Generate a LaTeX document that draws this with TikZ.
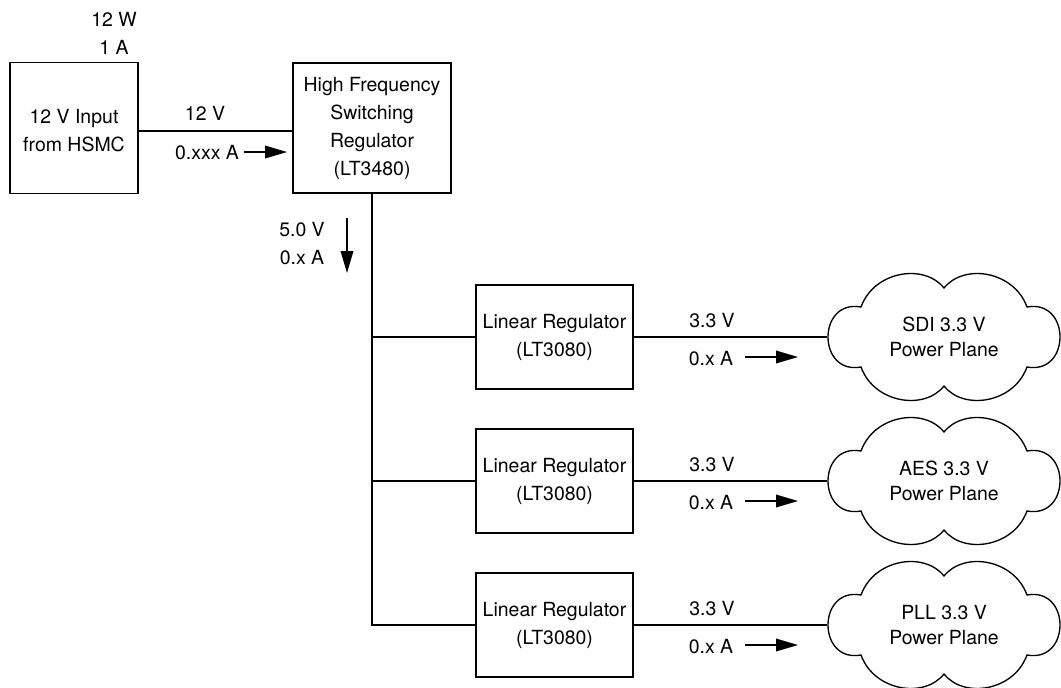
\documentclass[tikz,border=0pt]{standalone}
\usepackage{fontspec}
\setmainfont{TeX Gyre Heros}
\usetikzlibrary{arrows.meta}
\begin{document}
\begin{tikzpicture}[x=0.75pt,y=-0.75pt,
  wire/.style={line width=1pt},
  blk/.style={draw,line width=1pt,inner sep=0pt,align=center,
    font=\fontsize{14.6}{21}\selectfont},
  lbl/.style={inner sep=0pt,align=center,font=\fontsize{14.6}{21}\selectfont},
  flow/.style={line width=1pt,-{Triangle[length=16.5pt,width=9.5pt]}},
  planebox/.style={inner sep=0pt,minimum width=175.5pt,minimum height=94.5pt,
    align=center,font=\fontsize{14.6}{19}\selectfont},
  plane/.pic={
    \draw[line width=1pt]
      (-83,-30) .. controls (-70,-66) and (-20,-74) .. (0,-49)
      .. controls (20,-74) and (70,-66) .. (83,-30)
      .. controls (127,-38) and (127,38) .. (83,30)
      .. controls (70,66) and (20,74) .. (0,49)
      .. controls (-20,74) and (-70,66) .. (-83,30)
      .. controls (-127,38) and (-127,-38) .. cycle;
  }]
\useasboundingbox (0,0) rectangle (1061,687);

% source and switching regulator
\node[blk,minimum width=96pt,minimum height=98.25pt] (inbox) at (74,128) {};
\node[lbl] (intext) at (74,131) {12 V Input\\from HSMC};
\node[lbl] (inpower) at (114,33) {12 W\\1 A};
\node[blk,minimum width=118.5pt,minimum height=97.5pt] (sw) at (372,128)
  {High Frequency\\Switching\\Regulator\\(LT3480)};

\draw[wire] ([yshift=-2.25pt]inbox.east) -- ([yshift=-2.25pt]sw.west);
\node[lbl] (v12) at (205,113) {12 V};
\node[lbl] (a12) at (207,153) {0.xxx A};
\coordinate (a12s) at (244,152);
\coordinate (a12e) at (287,152);
\draw[flow] (a12s) -- (a12e);

% 5 V bus
\node[lbl] (v5) at (302,244) {5.0 V\\0.x A};
\coordinate (a5s) at (347,218);
\coordinate (a5e) at (347,273);
\draw[flow] (a5s) -- (a5e);

% linear regulators and power planes
\foreach \i/\yy/\nm in {1/337/SDI,2/481/AES,3/625/PLL}{
  \node[blk,minimum width=117.75pt,minimum height=78pt] (lr\i) at (554.5,\yy)
    {Linear Regulator\\(LT3080)};
  \pic at (944,\yy) {plane};
  \node[planebox] (pp\i) at (944,\yy) {\nm{} 3.3 V\\Power Plane};
  \draw[wire] (lr\i.east) -- (pp\i.west);
  \node[lbl] (v33\i) at (712,\yy-16) {3.3 V};
  \node[lbl] (a33\i) at (711,\yy+22) {0.x A};
  \coordinate (a\i s) at (745,\yy+20);
  \coordinate (a\i e) at (798,\yy+20);
  \draw[flow] (a\i s) -- (a\i e);
}
\draw[wire] (sw.south) -- (sw.south |- lr3.west) -- (lr3.west);
\draw[wire] (sw.south |- lr1.west) -- (lr1.west);
\draw[wire] (sw.south |- lr2.west) -- (lr2.west);
\end{tikzpicture}
\end{document}
